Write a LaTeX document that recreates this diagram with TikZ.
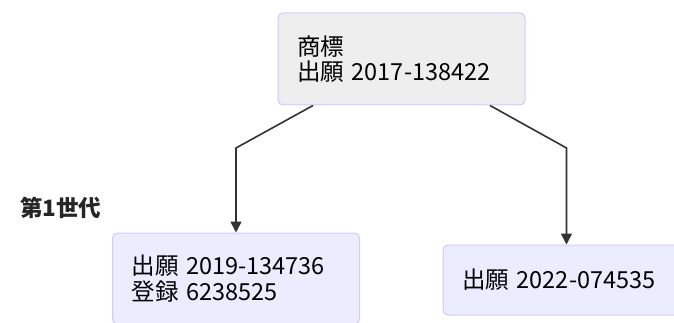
\documentclass[tikz,border=0pt]{standalone}
\usepackage{fontspec}
\setmainfont{Noto Sans CJK JP}
\usetikzlibrary{arrows.meta,calc}
\definecolor{boxfill}{HTML}{ECECFF}
\definecolor{topfill}{HTML}{EEEEEE}
\definecolor{boxline}{HTML}{CCCCFF}
\definecolor{arrowc}{HTML}{333333}
\tikzset{
  nodebox/.style={draw=boxline, line width=1pt, fill=boxfill, rounded corners=5pt,
    text width=209pt, inner xsep=19pt, inner ysep=0pt, align=left,
    font=\fontsize{23.5}{25.5}\selectfont, text=black},
  link/.style={draw=arrowc, line width=1.6pt, -{Triangle[length=11pt,width=11pt]}},
  genlabel/.style={font=\fontsize{22.5}{26}\selectfont\bfseries, text=black!85, anchor=west, inner sep=0pt}
}
\begin{document}
\begin{tikzpicture}[x=1pt,y=-1pt]
\useasboundingbox (0,0) rectangle (674,323);
\clip (0,0) rectangle (674,323);
\fill[white] (0,0) rectangle (674,323);
\node[nodebox, fill=topfill, minimum height=92pt] (top) at (401.5,59) {商標\\出願 2017-138422};
\node[nodebox, minimum height=91pt] (l1) at (236,278.5) {出願 2019-134736\\登録 6238525};
\node[nodebox, minimum height=70pt] (r1) at (566.5,280) {出願 2022-074535};
\node[genlabel] (gen) at (20,208) {第1世代};
\coordinate (s1) at ($(top.south)+(-88.5,0)$);
\coordinate (s2) at ($(top.south)+(88.5,0)$);
\coordinate (b1) at (l1.north |- 0,148);
\coordinate (b2) at (r1.north |- 0,148);
\draw[link] (s1) -- (b1) -- (l1.north);
\draw[link] (s2) -- (b2) -- (r1.north);
\end{tikzpicture}
\end{document}
